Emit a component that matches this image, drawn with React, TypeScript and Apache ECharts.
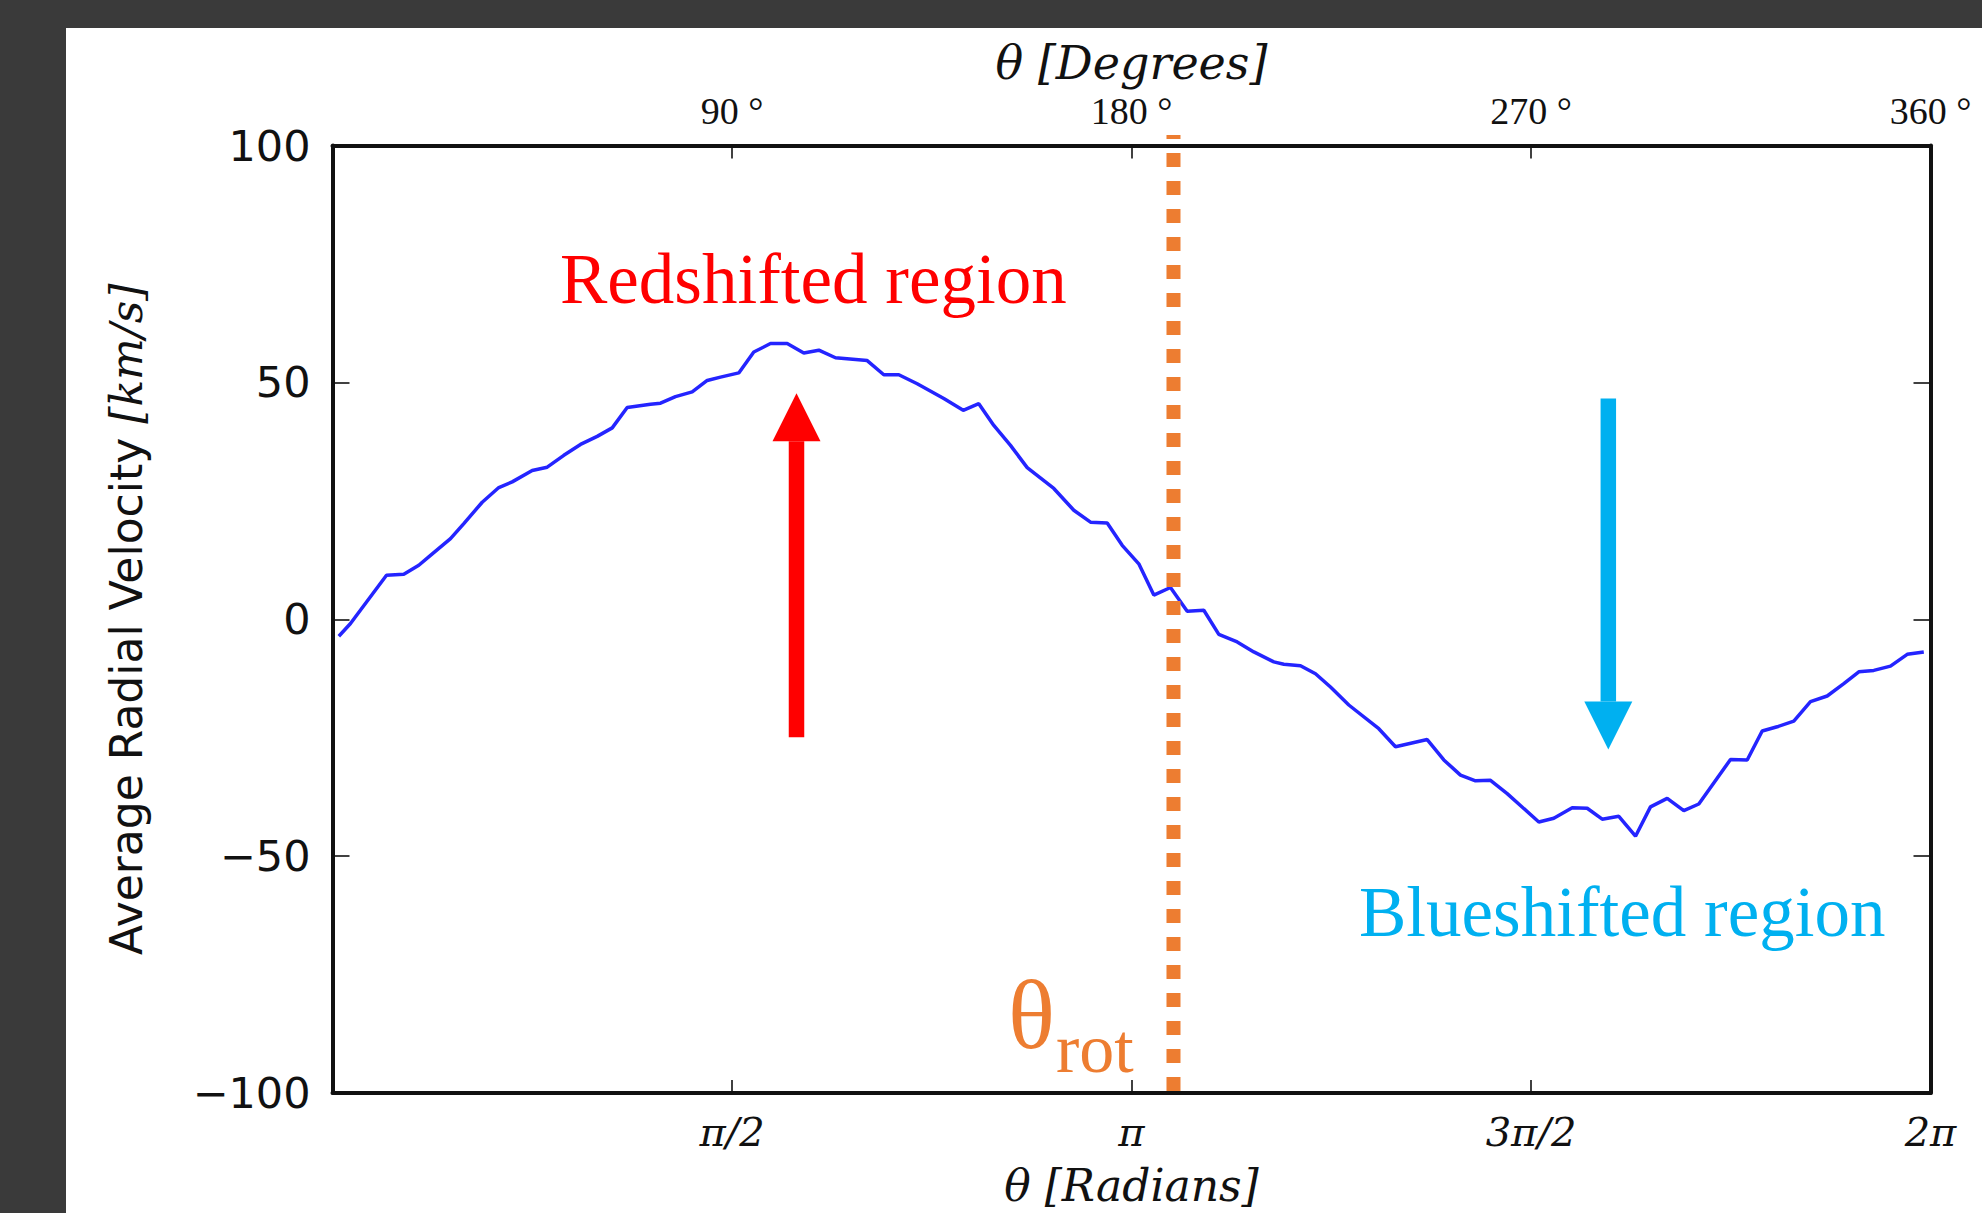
import React, { useEffect, useRef } from "react";
import * as echarts from "echarts";

// theta in radians, average radial velocity in km/s
const theta = [
  0.0248, 0.0708, 0.2123, 0.2803, 0.3393, 0.3853, 0.464, 0.5163, 0.5886, 0.6539,
  0.7066, 0.7852, 0.8442, 0.9095, 0.9751, 1.0408, 1.0998, 1.1587, 1.2503, 1.2897,
  1.3486, 1.4143, 1.4733, 1.5256, 1.5975, 1.6565, 1.7222, 1.7878, 1.8531, 1.9121,
  1.9777, 2.1024, 2.1677, 2.2267, 2.299, 2.4036, 2.4798, 2.5412, 2.6002, 2.6658,
  2.7315, 2.8361, 2.9147, 2.9804, 3.0461, 3.105, 3.1703, 3.2293, 3.2949, 3.3606,
  3.4259, 3.4849, 3.5572, 3.6225, 3.7011, 3.7405, 3.8061, 3.8651, 3.924, 3.996,
  4.114, 4.1796, 4.3043, 4.3696, 4.4352, 4.4942, 4.5531, 4.6188, 4.7431, 4.8021,
  4.8744, 4.9334, 4.9924, 5.0577, 5.1233, 5.1822, 5.2479, 5.3132, 5.3722, 5.4968,
  5.5625, 5.6214, 5.6804, 5.7457, 5.8113, 5.877, 5.9423, 6.0013, 6.0603, 6.1259,
  6.1916, 6.2568,
];
const velocity = [
  -3.6, -0.9, 9.3, 9.5, 11.4, 13.5, 17.0, 20.2, 24.7, 27.8,
  29.0, 31.4, 32.1, 34.6, 36.9, 38.6, 40.4, 44.7, 45.4, 45.6,
  47.0, 48.0, 50.4, 51.1, 52.0, 56.4, 58.2, 58.2, 56.2, 56.8,
  55.2, 54.6, 51.6, 51.6, 49.7, 46.6, 44.1, 45.5, 40.9, 36.7,
  32.0, 27.6, 23.0, 20.5, 20.3, 15.6, 11.7, 5.1, 6.7, 1.7,
  1.9, -3.2, -4.8, -6.9, -9.0, -9.5, -9.8, -11.5, -14.3, -18.1,
  -23.1, -26.9, -25.4, -29.7, -32.9, -34.1, -34.0, -36.8, -42.8, -42.0,
  -39.8, -39.9, -42.2, -41.6, -45.8, -39.6, -37.8, -40.4, -39.0, -29.6,
  -29.7, -23.6, -22.7, -21.5, -17.4, -16.2, -13.6, -11.1, -10.8, -9.9,
  -7.4, -6.9,
];

const radianLabels = ["", "π/2", "π", "3π/2", "2π"];
const degreeLabels = ["", "90 °", "180 °", "270 °", "360 °"];
const yTicks = { min: -100, max: 100, interval: 50 };

// annotations: [theta, from value, to value]
const thetaRot = [3.3067, -99.6, 102.2];
const redArrow = [1.8244, -24.9, 47.7];
const blueArrow = [5.0164, 46.6, -27.5];

const TWO_PI = Math.PI * 2;
const HALF_PI = Math.PI / 2;

function arrowRenderer(color: string) {
  return (params: any, api: any) => {
    const from = api.coord([api.value(0), api.value(1)]);
    const to = api.coord([api.value(0), api.value(2)]);
    const cx = from[0];
    const dir = to[1] > from[1] ? 1 : -1;
    const headLen = 48;
    const headW = 48;
    const shaftW = 15.5;
    const baseY = to[1] - dir * headLen;
    return {
      type: "group",
      children: [
        {
          type: "polygon",
          shape: {
            points: [
              [cx - shaftW / 2, from[1]],
              [cx + shaftW / 2, from[1]],
              [cx + shaftW / 2, baseY],
              [cx - shaftW / 2, baseY],
            ],
          },
          style: { fill: color },
        },
        {
          type: "polygon",
          shape: {
            points: [
              [cx - headW / 2, baseY],
              [cx + headW / 2, baseY],
              [cx, to[1]],
            ],
          },
          style: { fill: color },
        },
      ],
    };
  };
}

export default function App() {
  const ref = useRef<HTMLDivElement>(null);
  useEffect(() => {
    if (!ref.current) return;
    const chart = echarts.init(ref.current, undefined, { renderer: "svg" });
    const lineData = theta.map((t, i) => [t, velocity[i]]);
    const axisLine = { show: true, onZero: false, lineStyle: { color: "#111", width: 4 } };
    const xTick = { show: true, inside: true, length: 13, lineStyle: { color: "#111", width: 1.6 } };
    const yTick = { show: true, inside: true, length: 17, lineStyle: { color: "#111", width: 1.6 } };
    const mathItalic = { fontFamily: "DejaVu Serif", fontStyle: "italic", color: "#111" };

    chart.setOption({
      animation: false,
      backgroundColor: "#3a3a3a",
      grid: {
        left: 332.5,
        top: 145.5,
        width: 1598,
        height: 947.5,
        containLabel: false,
        outerBoundsMode: "none",
      },
      xAxis: [
        {
          type: "value",
          position: "bottom",
          min: 0,
          max: TWO_PI,
          interval: HALF_PI,
          axisLine,
          axisTick: xTick,
          splitLine: { show: false },
          axisLabel: {
            showMinLabel: false,
            margin: 19,
            ...mathItalic,
            fontSize: 40,
            formatter: (v: number) => radianLabels[Math.round(v / HALF_PI)] ?? "",
          },
          name: "θ [Radians]",
          nameLocation: "middle",
          nameGap: 70,
          nameTextStyle: { ...mathItalic, fontSize: 44 },
        },
        {
          type: "value",
          position: "top",
          min: 0,
          max: TWO_PI,
          interval: HALF_PI,
          axisLine,
          axisTick: xTick,
          splitLine: { show: false },
          axisLabel: {
            showMinLabel: false,
            margin: 16,
            fontFamily: "Liberation Serif",
            fontSize: 38,
            color: "#111",
            formatter: (v: number) => degreeLabels[Math.round(v / HALF_PI)] ?? "",
          },
          name: "θ [Degrees]",
          nameLocation: "middle",
          nameGap: 60,
          nameTextStyle: { ...mathItalic, fontSize: 46 },
        },
      ],
      yAxis: [
        {
          type: "value",
          position: "left",
          ...yTicks,
          axisLine,
          axisTick: yTick,
          splitLine: { show: false },
          axisLabel: {
            margin: 22,
            fontFamily: "DejaVu Sans",
            fontSize: 43,
            color: "#111",
            formatter: (v: number) => (v < 0 ? "\u2212" + Math.abs(v) : String(v)),
          },
          name: "{a|Average Radial Velocity }{b|[km/s]}",
          nameLocation: "middle",
          nameRotate: 90,
          nameGap: 184,
          nameTextStyle: {
            rich: {
              a: { fontFamily: "DejaVu Sans", fontSize: 44, color: "#111" },
              b: { fontFamily: "DejaVu Serif", fontStyle: "italic", fontSize: 44, color: "#111" },
            },
          },
        },
        {
          type: "value",
          position: "right",
          ...yTicks,
          axisLine,
          axisTick: yTick,
          splitLine: { show: false },
          axisLabel: { show: false },
        },
      ],
      series: [
        {
          type: "line",
          data: lineData,
          showSymbol: false,
          symbol: "none",
          lineStyle: { color: "#2424ff", width: 3.5 },
          z: 3,
        },
        {
          type: "custom",
          data: [thetaRot],
          clip: false,
          z: 5,
          renderItem: (params: any, api: any) => {
            const from = api.coord([api.value(0), api.value(1)]);
            const to = api.coord([api.value(0), api.value(2)]);
            return {
              type: "line",
              shape: { x1: from[0], y1: from[1], x2: to[0], y2: to[1] },
              style: { stroke: "#ED7D31", lineWidth: 14, lineDash: [14, 14], lineCap: "butt" },
            };
          },
        },
        { type: "custom", data: [redArrow], clip: false, z: 6, renderItem: arrowRenderer("#FF0000") },
        { type: "custom", data: [blueArrow], clip: false, z: 6, renderItem: arrowRenderer("#00B0F0") },
      ],
      graphic: [
        {
          type: "rect",
          z: -100,
          shape: { x: 66, y: 28, width: 1916, height: 1185 },
          style: { fill: "#ffffff" },
        },
        {
          type: "text",
          z: 100,
          x: 560,
          y: 279,
          style: {
            text: "Redshifted region",
            fill: "#FF0000",
            font: "71px 'Liberation Serif'",
            textAlign: "left",
            textVerticalAlign: "middle",
          },
        },
        {
          type: "text",
          z: 100,
          x: 1359,
          y: 912,
          style: {
            text: "Blueshifted region",
            fill: "#00B0F0",
            font: "71px 'Liberation Serif'",
            textAlign: "left",
            textVerticalAlign: "middle",
          },
        },
        {
          type: "text",
          z: 100,
          x: 1008,
          y: 1015,
          style: {
            text: "θ",
            fill: "#ED7D31",
            font: "98px 'Liberation Serif'",
            textAlign: "left",
            textVerticalAlign: "middle",
          },
        },
        {
          type: "text",
          z: 100,
          x: 1056,
          y: 1048,
          style: {
            text: "rot",
            fill: "#ED7D31",
            font: "70px 'Liberation Serif'",
            textAlign: "left",
            textVerticalAlign: "middle",
          },
        },
      ],
    });
    return () => chart.dispose();
  }, []);
  return (
    <div
      ref={ref}
      style={{ position: "absolute", left: 0, top: 0, width: 1982, height: 1213 }}
    />
  );
}
